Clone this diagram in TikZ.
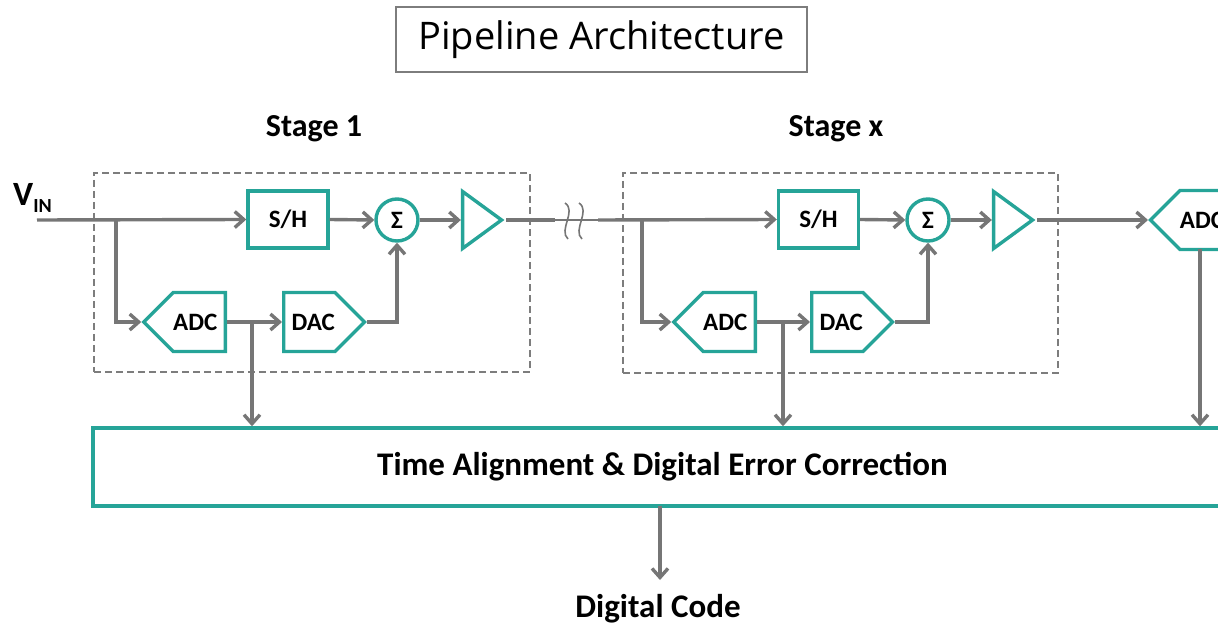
\documentclass[tikz,border=0pt]{standalone}
\usepackage{fontspec}
\setmainfont{Carlito}
\newfontfamily\titlefont{Open Sans}
\usetikzlibrary{arrows.meta,shapes.geometric,shapes.symbols}

\definecolor{blockteal}{RGB}{38,164,152}
\definecolor{wiregray}{RGB}{118,118,118}
\definecolor{framegray}{RGB}{125,125,125}

\tikzset{
  lbl/.style={font=\bfseries\fontsize{25}{26}\selectfont},
  blk/.style={draw=blockteal, line width=3.4pt, fill=white, inner sep=0pt, lbl},
  shbox/.style={blk, rectangle, minimum width=80pt, minimum height=57pt},
  sumnode/.style={blk, circle, minimum size=42pt},
  ampnode/.style={blk, isosceles triangle, isosceles triangle stretches,
    shape border rotate=0, minimum width=57pt, minimum height=39pt},
  adcnode/.style={blk, signal, signal to=west, signal from=nowhere,
    signal pointer angle=90, minimum width=80pt, minimum height=59pt},
  dacnode/.style={blk, signal, signal to=east, signal from=nowhere,
    signal pointer angle=90, minimum width=80pt, minimum height=59pt},
  stagebox/.style={draw=framegray, line width=1.5pt, dash pattern=on 7pt off 4pt,
    rectangle, inner sep=0pt},
  stagelabel/.style={font=\bfseries\fontsize{32}{34}\selectfont, anchor=base},
  conn/.style={draw=wiregray, line width=3.4pt,
    -{Straight Barb[length=9pt,width=16pt]}},
  wire/.style={draw=wiregray, line width=3.4pt},
  thinwire/.style={draw=wiregray, line width=1.6pt},
}

\begin{document}
\begin{tikzpicture}[x=1pt,y=-1pt]
\clip (0,0) rectangle (1218,628);

% title
\node[draw=framegray, line width=1.3pt, minimum width=411pt, minimum height=65pt,
      inner sep=0pt, font=\titlefont\fontsize{38}{40}\selectfont]
  (title) at (601.5,39.5) {Pipeline Architecture};

% stage frames and their captions
\node[stagebox, minimum width=436pt, minimum height=199pt] (stg1) at (312,272.5) {};
\node[stagebox, minimum width=435pt, minimum height=200pt] (stgx) at (840.5,273) {};
\node[stagelabel] (lab1) at (314,137) {Stage 1};
\node[stagelabel] (labx) at (836,137) {Stage x};

% input label
\node[anchor=base west, inner sep=0pt] (vin) at (13,206)
  {{\bfseries\fontsize{34}{36}\selectfont V}{\bfseries\fontsize{20}{22}\selectfont\raisebox{-7pt}{IN}}};

% stage 1 blocks
\node[shbox] (sh1) at (288,219.5) {S/H};
\node[sumnode] (sum1) at (397,220) {Σ};
\node[ampnode, anchor=apex] (amp1) at (506,220) {};
\node[adcnode, anchor=east] (adc1) at (227,322) {ADC\kern8pt};
\node[dacnode, anchor=west] (dac1) at (282,322) {\kern8pt DAC};

% stage x blocks
\node[shbox] (shx) at (818.5,219.5) {S/H};
\node[sumnode] (sumx) at (928,220) {Σ};
\node[ampnode, anchor=apex] (ampx) at (1037,220) {};
\node[adcnode, anchor=east] (adcx) at (757,322) {ADC\kern8pt};
\node[dacnode, anchor=west] (dacx) at (810,322) {\kern8pt DAC};

% last-stage converter
\node[adcnode, anchor=west] (adcf) at (1148,220) {ADC\kern18pt};

% correction block and output
\node[draw=blockteal, line width=3.4pt, fill=white, minimum width=1139pt,
      minimum height=78pt, inner sep=0pt, font=\bfseries\fontsize{33}{35}\selectfont]
  (bus) at (662.5,467) {Time Alignment \& Digital Error Correction};
\node[anchor=base, inner sep=0pt, font=\bfseries\fontsize{33}{35}\selectfont]
  (out) at (658,617) {Digital Code};

% junction points
\coordinate (in) at (37,220);
\coordinate (b1) at (116,220);
\coordinate (t1) at (252,322);
\coordinate (brkA) at (555,220);
\coordinate (brkB) at (598,220);
\coordinate (bx) at (642,220);
\coordinate (tx) at (783,322);
\coordinate (tf) at (1200,249);
\coordinate (o1) at (660,506);
\coordinate (o2) at (660,580);

% stage 1 wiring
\draw[conn] (in) -- (sh1.west);
\draw[conn] (b1) |- (adc1.west);
\draw[conn] (sh1.east) -- (sum1.west);
\draw[conn] (sum1.east) -- (amp1.west);
\draw[conn] (adc1.east) -- (dac1.west);
\draw[conn] (dac1.east) -| (sum1.south);
\draw[conn] (t1) -- (t1 |- bus.north);

% inter-stage link with break marks
\draw[wire] (amp1.apex) -- (brkA);
\draw[thinwire] (brkA) -- (brkB);
\draw[thinwire] (565,203) .. controls (577,211) and (558,230) .. (568,239);
\draw[thinwire] (579,203) .. controls (591,211) and (572,230) .. (582,239);

% stage x wiring
\draw[conn] (brkB) -- (shx.west);
\draw[conn] (bx) |- (adcx.west);
\draw[conn] (shx.east) -- (sumx.west);
\draw[conn] (sumx.east) -- (ampx.west);
\draw[conn] (adcx.east) -- (dacx.west);
\draw[conn] (dacx.east) -| (sumx.south);
\draw[conn] (tx) -- (tx |- bus.north);
\draw[conn] (ampx.apex) -- (adcf.west);
\draw[conn] (tf) -- (tf |- bus.north);

% output
\draw[conn] (o1) -- (o2);
\end{tikzpicture}
\end{document}
